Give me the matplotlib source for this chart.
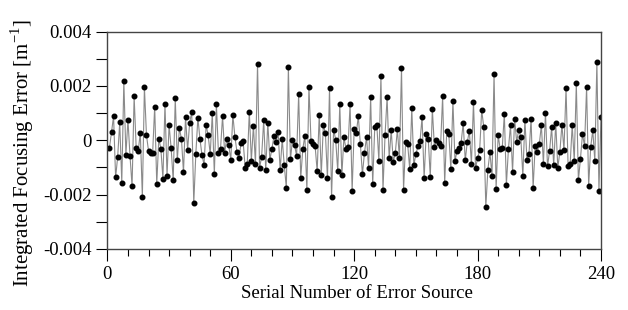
import numpy as np
import matplotlib
matplotlib.use("Agg")
import matplotlib.pyplot as plt
from matplotlib.ticker import MultipleLocator, FuncFormatter

plt.rcParams["font.family"] = ["Liberation Serif", "DejaVu Serif"]
plt.rcParams["axes.unicode_minus"] = False

# serial numbers of the error sources
serial = np.arange(1, 241)

# integrated focusing error (units of 1e-3 m^-1)
err_1_60 = [
    -0.27, 0.29, 0.89, -1.37, -0.61, 0.66, -1.56, 2.17, -0.54, 0.75,
    -0.58, -1.69, 1.62, -0.27, -0.38, 0.27, -2.08, 1.95, 0.19, -0.39,
    -0.47, -0.47, 1.24, -1.61, 0.06, -0.31, -1.41, 1.33, -1.31, 0.56,
    -0.29, -1.48, 1.54, -0.74, 0.44, 0.06, -1.18, 0.87, -0.36, 0.65,
    1.04, -2.32, -0.50, 0.83, 0.05, -0.55, -0.90, 0.56, 0.18, -0.51,
    0.99, -1.25, 1.32, -0.46, -0.32, 0.89, -0.46, 0.04, -0.18, -0.72,
]
err_61_120 = [
    0.93, 0.13, -0.43, -0.66, -0.09, -0.03, -1.03, -0.88, 1.05, -0.75,
    0.53, -0.88, 2.81, -1.02, -0.60, 0.74, -1.10, 0.65, -0.72, -0.31,
    0.16, -0.07, 0.31, -1.10, 0.05, -0.92, -1.75, 2.68, -0.70, 0.01,
    -0.17, -0.58, 1.70, -1.40, -0.33, 0.17, -1.82, 1.95, -0.01, -0.12,
    -0.21, -1.14, 0.93, -1.28, 0.55, 0.27, -1.40, 1.92, -2.08, 0.39,
    0.02, -1.14, 1.32, -1.29, 0.11, -0.31, -0.25, 1.32, -1.86, 0.43,
]
err_121_180 = [
    0.26, 0.88, -0.14, -1.25, -0.46, 0.12, -1.03, 1.58, -1.62, 0.50,
    0.56, -0.76, 2.36, -1.83, 0.19, 1.58, -0.66, 0.37, -0.79, -0.46,
    0.40, -0.66, 2.65, -1.83, -0.06, -0.14, -1.07, 1.18, -0.91, -0.51,
    -0.22, -0.04, 0.85, -1.40, 0.22, 0.06, -1.35, 1.15, -0.25, 0.02,
    -0.11, -0.20, 1.62, -1.57, 0.35, 0.24, -1.06, 1.43, -0.76, -0.39,
    -0.29, -0.09, 0.63, -0.74, -0.05, 0.33, -0.88, 1.42, -1.03, -0.66,
]
err_181_240 = [
    -0.36, 1.11, 0.48, -2.45, -1.08, -0.44, -1.32, 2.44, -1.78, 0.19,
    -0.33, -0.27, 0.97, -1.64, -0.31, 0.56, -1.17, 0.79, -0.06, 0.39,
    0.12, -1.31, 0.76, -0.72, -0.49, 0.79, -1.75, -0.20, -0.42, -0.15,
    0.56, -0.86, 1.00, -0.96, -0.39, 0.48, -0.92, 0.64, -1.01, -0.43,
    0.57, -0.35, 1.91, -0.94, -0.88, 0.56, -0.76, 2.10, -1.48, -0.69,
    0.23, -0.22, 1.96, -1.67, -0.24, 0.37, -0.76, 2.89, -1.86, 0.87,
]

error = np.array(err_1_60 + err_61_120 + err_121_180 + err_181_240) * 1e-3

x_ticks = [0, 60, 120, 180, 240]
y_ticks = [-0.004, -0.002, 0, 0.002, 0.004]

fig = plt.figure(figsize=(6.28, 3.10), dpi=100)
ax = fig.add_axes([0.171, 0.197, 0.786, 0.701])

ax.plot(serial, error, color="#8a8a8a", lw=0.8, zorder=1)
ax.plot(serial, error, "o", color="black", ms=3.3, mec="black", zorder=2)

ax.set_xlim(0, 240)
ax.set_ylim(-0.004, 0.004)
ax.set_xticks(x_ticks)
ax.set_yticks(y_ticks)
ax.xaxis.set_minor_locator(MultipleLocator(10))
ax.yaxis.set_minor_locator(MultipleLocator(0.001))
ax.yaxis.set_major_formatter(FuncFormatter(lambda v, p: "0" if abs(v) < 1e-12 else f"{v:.3f}"))

ax.tick_params(axis="x", which="major", direction="out", length=8.5, width=0.8,
               labelsize=13.5, pad=4)
ax.tick_params(axis="x", which="minor", direction="out", length=5, width=0.8)
ax.tick_params(axis="y", which="both", direction="out", length=8, width=0.8,
               labelsize=13.5, pad=3.5)

for s in ax.spines.values():
    s.set_linewidth(1.0)
    s.set_color("#444444")

ax.set_xlabel("Serial Number of Error Source", fontsize=13.5)
ax.set_ylabel("Integrated Focusing Error [m$^{\\mathregular{-1}}$]", fontsize=15)
ax.xaxis.set_label_coords(0.5056, -0.166)
ax.yaxis.set_label_coords(-0.145, 0.441)

fig.savefig("out.png", dpi=100)
